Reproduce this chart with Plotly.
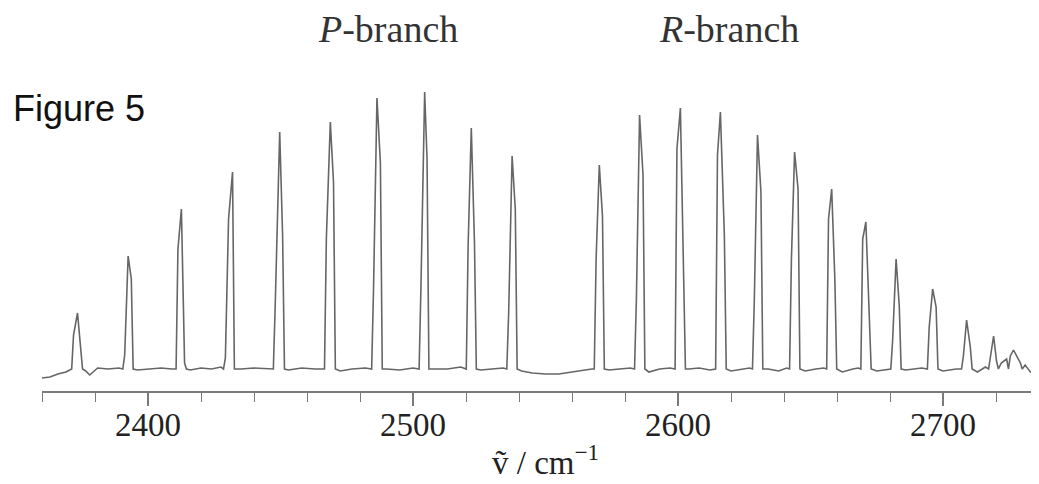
import plotly.graph_objects as go

# ---- data (wavenumber in cm^-1, intensity in arbitrary units) ----
main_pos = [2373.4, 2392.5, 2412.6, 2431.9, 2449.7, 2468.8, 2486.4, 2504.4, 2522.0, 2537.4,
            2570.3, 2585.5, 2600.9, 2616.0, 2630.0, 2644.0, 2658.0, 2670.9, 2682.3, 2696.1,
            2708.9, 2719.1, 2726.6]
main_int = [56, 113, 160, 197, 237, 247, 271, 277, 241, 213,
            204, 254, 261, 257, 234, 217, 180, 147, 110, 80,
            49, 33, 19]
side_pos = [2371.9, 2393.7, 2411.3, 2430.4, 2450.8, 2470.0, 2487.7, 2505.3, 2523.2, 2538.6,
            2571.5, 2586.8, 2599.6, 2614.9, 2631.3, 2645.3, 2656.8, 2669.7, 2683.5, 2697.4,
            2710.3, 2717.9, 2725.4]
side_int = [34, 90, 120, 150, 133, 187, 206, 210, 126, 160,
            153, 194, 220, 214, 177, 180, 150, 130, 63, 62,
            22, 13, 13]
third_pos = [2374.6, 2391.2, 2413.8, 2429.2, 2448.0, 2467.3, 2485.1, 2503.0, 2520.8, 2536.1,
             2569.1, 2584.3, 2602.1, 2617.5, 2628.8, 2642.8, 2659.2, 2672.2, 2681.0, 2694.8,
             2707.7, 2720.2, 2729.2]
third_int = [16, 14, 6, 11, 63, 130, 79, 82, 123, 56,
             110, 70, 72, 133, 69, 110, 89, 42, 29, 42,
             13, 8, 6]

base_x = [2360, 2363, 2366, 2369, 2376.5, 2378, 2381, 2385, 2389, 2396, 2400, 2405, 2409,
          2416, 2420, 2424, 2427.5, 2435, 2440, 2445, 2453, 2458, 2463, 2472.5, 2477, 2482,
          2490, 2495, 2500, 2508, 2513, 2518, 2525.5, 2530, 2534, 2541, 2545, 2550, 2555,
          2560, 2564, 2567.5, 2574, 2578, 2582, 2589, 2593, 2597, 2604, 2608, 2612, 2620,
          2624, 2627, 2634, 2638, 2641, 2648, 2652, 2655, 2662, 2666, 2668, 2675, 2679,
          2686, 2689, 2692, 2700, 2705, 2713, 2716, 2722, 2724, 2731, 2733, 2736.3]
base_int = [-9, -8, -5, -3, -2, -6, 1, 0, 1, -1, 0, 1, 0,
            -1, 1, 0, 2, 0, 1, 0, -1, 1, 0, -2, 0, 1,
            0, -1, 1, 0, 0, 2, -1, 0, 1, -2, -4, -5, -5,
            -3, -1, 0, -1, 0, 1, -3, 0, 1, 0, 1, -1, -2,
            0, 1, 0, -2, 1, -2, 0, 1, -3, 0, 1, -2, 0,
            -1, 0, 1, -2, 0, -3, 2, 6, 10, 4, -3, -9]

x_ticks = [2400, 2500, 2600, 2700]
x_tick_labels = ["2400", "2500", "2600", "2700"]

# ---- build the spectrum polyline from the peak table and baseline points ----
pts = list(zip(base_x, base_int))
for i in range(len(main_pos)):
    comps = sorted([(main_pos[i], main_int[i]), (side_pos[i], side_int[i]),
                    (third_pos[i], third_int[i])])
    pts.append((comps[0][0] - 0.7, 0))
    pts.extend(comps)
    pts.append((comps[-1][0] + 0.7, 0))
pts.sort()
xs = [p[0] for p in pts]
ys = [p[1] for p in pts]

fig = go.Figure()
fig.add_trace(go.Scatter(x=xs, y=ys, mode="lines",
                         line=dict(color="#666666", width=1.6), hoverinfo="skip"))

# page body has an 8 px margin: figure occupies page pixels 8..1039, 8..484
OFF = 8
PAGE_W, PAGE_H = 1039, 484
W, H = PAGE_W - OFF, PAGE_H - OFF
L = 42 - OFF            # plot area left edge at page x = 42
AXIS_Y = 391            # axis line at page y = 391
T = 60 - OFF            # plot area top at page y = 60
B = PAGE_H - AXIS_Y
plot_w = W - L
plot_h = H - T - B

def px(x):  # page x -> paper
    return (x - OFF - L) / plot_w

def py(y):  # page y -> paper
    return (AXIS_Y - y) / plot_h

fig.update_layout(
    width=W, height=H,
    margin=dict(l=L, r=0, t=T, b=B, pad=0),
    paper_bgcolor="white", plot_bgcolor="white",
    showlegend=False,
    xaxis=dict(range=[2360, 2360 + plot_w / 2.65],
               showline=True, linecolor="#7a7a7a", linewidth=1.5,
               ticks="outside", ticklen=13, tickwidth=1.5, tickcolor="#7a7a7a",
               tickvals=x_ticks, ticktext=x_tick_labels,
               tickfont=dict(family="Liberation Serif", size=33, color="#222"),
               ticklabelstandoff=-9,
               showgrid=False, zeroline=False,
               minor=dict(tick0=2360, dtick=20, ticks="outside", ticklen=9,
                          tickwidth=1.2, tickcolor="#7a7a7a", showgrid=False)),
    yaxis=dict(visible=False, range=[-22, -22 + plot_h]),
)

ann = [
    dict(text="Figure 5", x=px(11), y=py(108), xanchor="left", yanchor="middle",
         font=dict(family="Liberation Sans", size=36, color="#111")),
    dict(text="<i>P</i>-branch", x=px(387.5), y=py(29), xanchor="center", yanchor="middle",
         font=dict(family="Liberation Serif", size=38, color="#333")),
    dict(text="<i>R</i>-branch", x=px(728.5), y=py(29), xanchor="center", yanchor="middle",
         font=dict(family="Liberation Serif", size=38, color="#333")),
    dict(text="\u1e7d / cm<sup>\u22121</sup>", x=px(545), y=py(460), xanchor="center",
         yanchor="middle", font=dict(family="Liberation Serif", size=33, color="#222")),
]
for a in ann:
    a.update(xref="paper", yref="paper", showarrow=False)
fig.update_layout(annotations=ann)

fig.write_html("out.html")
